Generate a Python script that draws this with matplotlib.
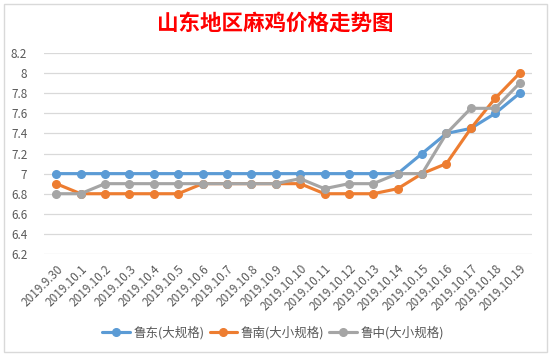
import matplotlib
matplotlib.use("Agg")
import matplotlib.pyplot as plt
from matplotlib.patches import Rectangle

plt.rcParams['font.family'] = ['Noto Sans CJK SC', 'DejaVu Sans']

dates = ["2019.9.30"] + [f"2019.10.{i}" for i in range(1, 20)]
lu_dong = [7.0, 7.0, 7.0, 7.0, 7.0, 7.0, 7.0, 7.0, 7.0, 7.0,
           7.0, 7.0, 7.0, 7.0, 7.0, 7.2, 7.4, 7.45, 7.6, 7.8]
lu_nan = [6.9, 6.8, 6.8, 6.8, 6.8, 6.8, 6.9, 6.9, 6.9, 6.9,
          6.9, 6.8, 6.8, 6.8, 6.85, 7.0, 7.1, 7.45, 7.75, 8.0]
lu_zhong = [6.8, 6.8, 6.9, 6.9, 6.9, 6.9, 6.9, 6.9, 6.9, 6.9,
            6.95, 6.85, 6.9, 6.9, 7.0, 7.0, 7.4, 7.65, 7.65, 7.9]
series_names = ["鲁东(大规格)", "鲁南(大小规格)", "鲁中(大小规格)"]
colors = ["#5B9BD5", "#ED7D31", "#A5A5A5"]
title = "山东地区麻鸡价格走势图"
yticks = [6.2, 6.4, 6.6, 6.8, 7.0, 7.2, 7.4, 7.6, 7.8, 8.0, 8.2]
ytick_labels = ["6.2", "6.4", "6.6", "6.8", "7", "7.2", "7.4", "7.6", "7.8", "8", "8.2"]

fig = plt.figure(figsize=(5.5, 3.56), dpi=100)
fig.patch.set_facecolor("white")
ax = fig.add_axes([0.08, 0.2865, 0.887, 0.5645])

x = list(range(len(dates)))
for vals, name, c in zip([lu_dong, lu_nan, lu_zhong], series_names, colors):
    ax.plot(x, vals, color=c, lw=2.25, marker="o", markersize=5.5,
            label=name, solid_capstyle="round", zorder=3)

ax.set_xlim(-0.5, len(dates) - 0.5)
ax.set_ylim(6.2, 8.2)
ax.set_yticks(yticks)
ax.set_yticklabels(ytick_labels)
ax.set_xticks(x)
ax.set_xticklabels(dates, rotation=45, ha="right", rotation_mode="anchor")
ax.tick_params(axis="both", length=0, colors="#595959", labelsize=8.5)
ax.tick_params(axis="x", pad=6)
ax.tick_params(axis="y", pad=12)
for lab in ax.get_yticklabels():
    lab.set_horizontalalignment("right")
ax.grid(axis="y", color="#D9D9D9", lw=0.9)
ax.set_axisbelow(True)
for s in ax.spines.values():
    s.set_visible(False)

fig.text(0.5, 0.935, title, ha="center", va="center", color="red",
         fontsize=15.5, fontweight="bold")

leg = fig.legend(loc="center", bbox_to_anchor=(0.497, 0.065), ncol=3,
                 frameon=False, fontsize=9, handlelength=2.2,
                 columnspacing=0.4, handletextpad=0.3)
for t in leg.get_texts():
    t.set_color("#595959")

fig.patches.append(Rectangle((0.008, 0.01), 0.986, 0.98, transform=fig.transFigure,
                             fill=False, edgecolor="#D9D9D9", lw=1))

fig.savefig("out.png", dpi=100)
